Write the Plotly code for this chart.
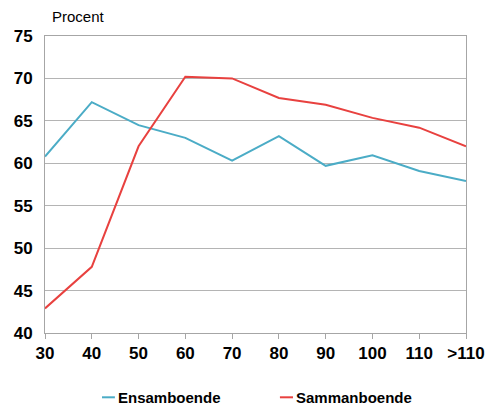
import plotly.graph_objects as go

categories = ["30", "40", "50", "60", "70", "80", "90", "100", "110", ">110"]
ensamboende = [60.8, 67.2, 64.5, 63.0, 60.3, 63.2, 59.7, 60.95, 59.1, 57.9]
sammanboende = [42.9, 47.8, 62.0, 70.2, 70.0, 67.7, 66.9, 65.35, 64.2, 62.0]
y_ticks = [40, 45, 50, 55, 60, 65, 70, 75]

teal = "#4bacc6"
red = "#e8413f"
grid = "#b4b4b4"
font = "Liberation Sans, Arial, sans-serif"

# vertical position of the hand-drawn legend row (paper coordinates)
legend_y = -0.2165

fig = go.Figure()
fig.add_trace(go.Scatter(x=categories, y=ensamboende, mode="lines",
                         line=dict(color=teal, width=2), name="Ensamboende"))
fig.add_trace(go.Scatter(x=categories, y=sammanboende, mode="lines",
                         line=dict(color=red, width=2), name="Sammanboende"))

fig.update_layout(
    width=487, height=407,
    margin=dict(l=45, r=21, t=36, b=74),
    paper_bgcolor="white", plot_bgcolor="white",
    showlegend=False,
    font=dict(family=font, color="black"),
    xaxis=dict(
        type="category", range=[0, 9], showgrid=False, automargin=False,
        showline=True, linecolor="#a6a6a6", linewidth=1, mirror=True,
        ticks="outside", ticklen=5, tickcolor="#a6a6a6",
        tickfont=dict(size=17, family=font, weight="bold"),
        zeroline=False,
    ),
    yaxis=dict(
        range=[40, 75], tickvals=y_ticks, showgrid=True, gridcolor=grid, gridwidth=1,
        showline=True, linecolor="#a6a6a6", linewidth=1, mirror=True, automargin=False,
        ticks="", ticklabelstandoff=8,
        tickfont=dict(size=17, family=font, weight="bold"),
        zeroline=False,
    ),
    annotations=[
        dict(text="Procent", xref="paper", yref="paper", x=0.012, y=1.03,
             xanchor="left", yanchor="bottom", showarrow=False,
             font=dict(size=15, family=font)),
        dict(text="<b>Ensamboende</b>", xref="paper", yref="paper", x=0.1686, y=legend_y,
             xanchor="left", yanchor="middle", showarrow=False,
             font=dict(size=15, family=font)),
        dict(text="<b>Sammanboende</b>", xref="paper", yref="paper", x=0.5914, y=legend_y,
             xanchor="left", yanchor="middle", showarrow=False,
             font=dict(size=15, family=font)),
    ],
    shapes=[
        dict(type="line", xref="paper", yref="paper", x0=0.1354, x1=0.166,
             y0=legend_y, y1=legend_y, line=dict(color=teal, width=2)),
        dict(type="line", xref="paper", yref="paper", x0=0.558, x1=0.589,
             y0=legend_y, y1=legend_y, line=dict(color=red, width=2)),
    ],
)

fig.write_html("out.html")
